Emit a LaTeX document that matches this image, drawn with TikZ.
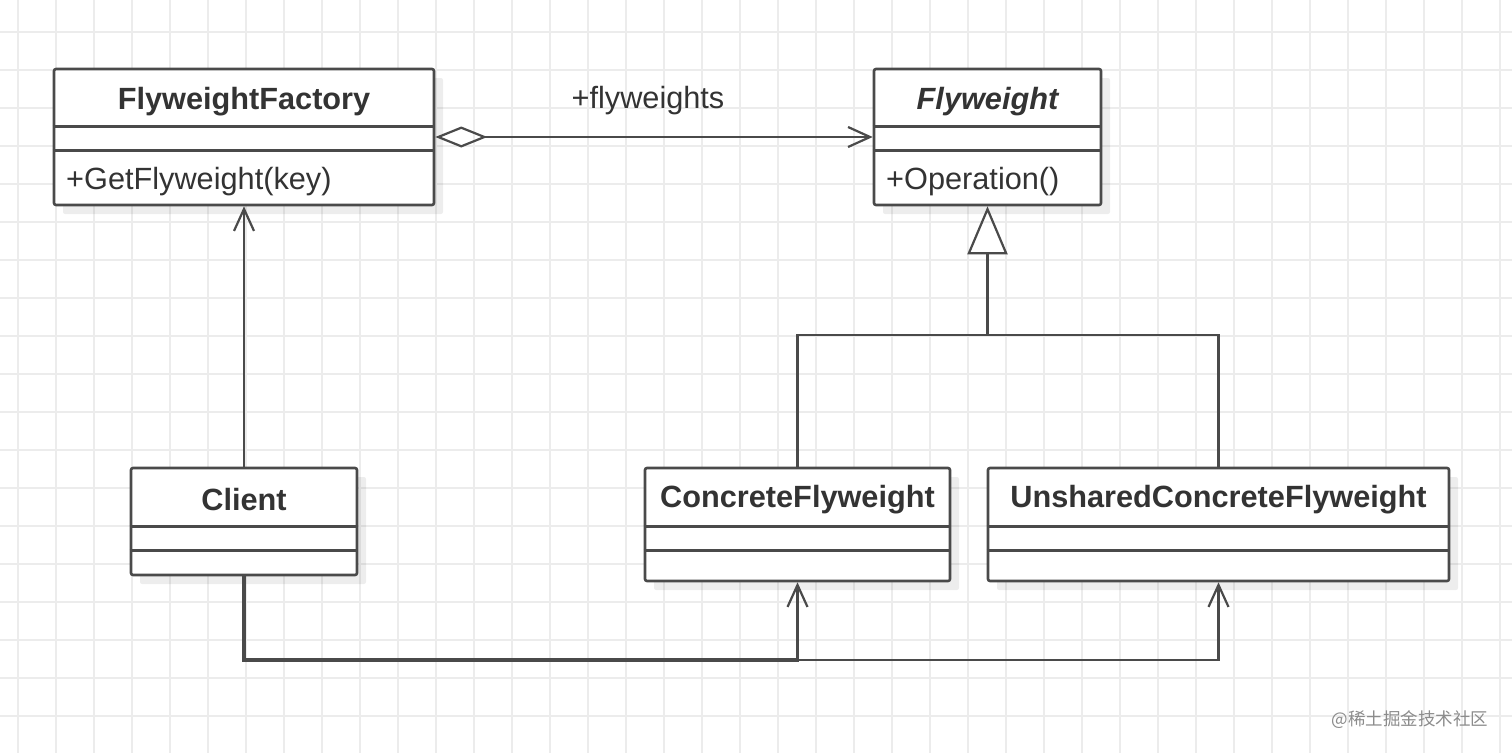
\documentclass[tikz,border=0pt]{standalone}
\usepackage{fontspec}
\setmainfont{Liberation Sans}
\newfontfamily\cjkfont{Noto Sans CJK SC}
\usetikzlibrary{arrows.meta,shadows}

\definecolor{linegray}{HTML}{4A4A4A}
\definecolor{textgray}{HTML}{333333}
\definecolor{gridgray}{HTML}{ECECEC}

\begin{document}
\begin{tikzpicture}[x=1pt, y=-1pt,
classbox/.style = {draw=linegray, line width=2.6pt, fill=white, rounded corners=2pt,
    inner sep=0pt, minimum height=#1,
    drop shadow={shadow xshift=9pt, shadow yshift=-9pt, opacity=0.07, fill=black}},
classbox/.default = 136pt,
divider/.style = {draw=linegray, line width=2.6pt},
classname/.style = {font=\bfseries\fontsize{30.7}{36}\selectfont, text=textgray},
member/.style = {font=\fontsize{30.7}{36}\selectfont, text=textgray, anchor=west},
link/.style = {draw=linegray, line width=2.6pt},
usearrow/.style = {link, -{Straight Barb[length=22pt, width=20pt, line width=2.2pt]}},
gridline/.style = {draw=gridgray, line width=1.4pt}]
\useasboundingbox (0,0) rectangle (1512,753);
\fill[white] (0,0) rectangle (1512,753);

% background grid
\foreach \x in {18,56,...,1512}
    \draw[gridline] (\x,0) -- (\x,753);
\foreach \y in {32,70,...,753}
    \draw[gridline] (0,\y) -- (1512,\y);

% classes
\node[classbox, minimum width=380pt] (factory) at (244,137) {};
\node[classname] (factoryname) at ([yshift=-34pt]factory.north) {FlyweightFactory};
\draw[divider] ([yshift=-59pt]factory.north west) -- ([yshift=-59pt]factory.north east);
\draw[divider] ([yshift=-83pt]factory.north west) -- ([yshift=-83pt]factory.north east);
\node[member] (factoryop) at ([xshift=10pt, yshift=-114pt]factory.north west) {+GetFlyweight(key)};

\node[classbox, minimum width=227pt] (flyweight) at (987.5,137) {};
\node[classname, font=\bfseries\itshape\fontsize{30.7}{36}\selectfont] (flyweightname)
    at ([yshift=-34pt]flyweight.north) {Flyweight};
\draw[divider] ([yshift=-59pt]flyweight.north west) -- ([yshift=-59pt]flyweight.north east);
\draw[divider] ([yshift=-83pt]flyweight.north west) -- ([yshift=-83pt]flyweight.north east);
\node[member] (flyweightop) at ([xshift=10pt, yshift=-114pt]flyweight.north west) {+Operation()};

\node[classbox=107pt, minimum width=226pt] (client) at (244,521.5) {};
\node[classname] (clientname) at ([yshift=-33pt]client.north) {Client};
\draw[divider] ([yshift=-60pt]client.north west) -- ([yshift=-60pt]client.north east);
\draw[divider] ([yshift=-84pt]client.north west) -- ([yshift=-84pt]client.north east);

\node[classbox=113pt, minimum width=305pt] (concrete) at (797.5,524.5) {};
\node[classname] (concretename) at ([yshift=-33pt]concrete.north) {ConcreteFlyweight};
\draw[divider] ([yshift=-60pt]concrete.north west) -- ([yshift=-60pt]concrete.north east);
\draw[divider] ([yshift=-84pt]concrete.north west) -- ([yshift=-84pt]concrete.north east);

\node[classbox=113pt, minimum width=461pt] (unshared) at (1218.5,524.5) {};
\node[classname] (unsharedname) at ([yshift=-33pt]unshared.north) {UnsharedConcreteFlyweight};
\draw[divider] ([yshift=-60pt]unshared.north west) -- ([yshift=-60pt]unshared.north east);
\draw[divider] ([yshift=-84pt]unshared.north west) -- ([yshift=-84pt]unshared.north east);

% relations
\draw[link, {Diamond[open, length=52pt, width=21pt, line width=2.2pt]}-{Straight Barb[length=22pt, width=20pt, line width=2.2pt]}]
    (factory.east) -- (flyweight.west);
\node[member, anchor=center] (rolename) at (648,101) {+flyweights};

\coordinate (fork) at (987.5,335);
\draw[link] (concrete.north) |- (fork) -| (unshared.north);
\draw[link, -{Triangle[open, length=48pt, width=40pt, line width=2.2pt]}] (fork) -- (flyweight.south);

\draw[usearrow] (client.north) -- (factory.south);

\coordinate (route) at (797.5,660);
\draw[usearrow, line width=3.2pt] (client.south) |- (route) -- (concrete.south);
\draw[usearrow] (route) -| (unshared.south);

\node[font=\cjkfont\fontsize{17.5}{20}\selectfont, text=black!45] (mark) at (1410,720) {@稀土掘金技术社区};
\end{tikzpicture}
\end{document}
